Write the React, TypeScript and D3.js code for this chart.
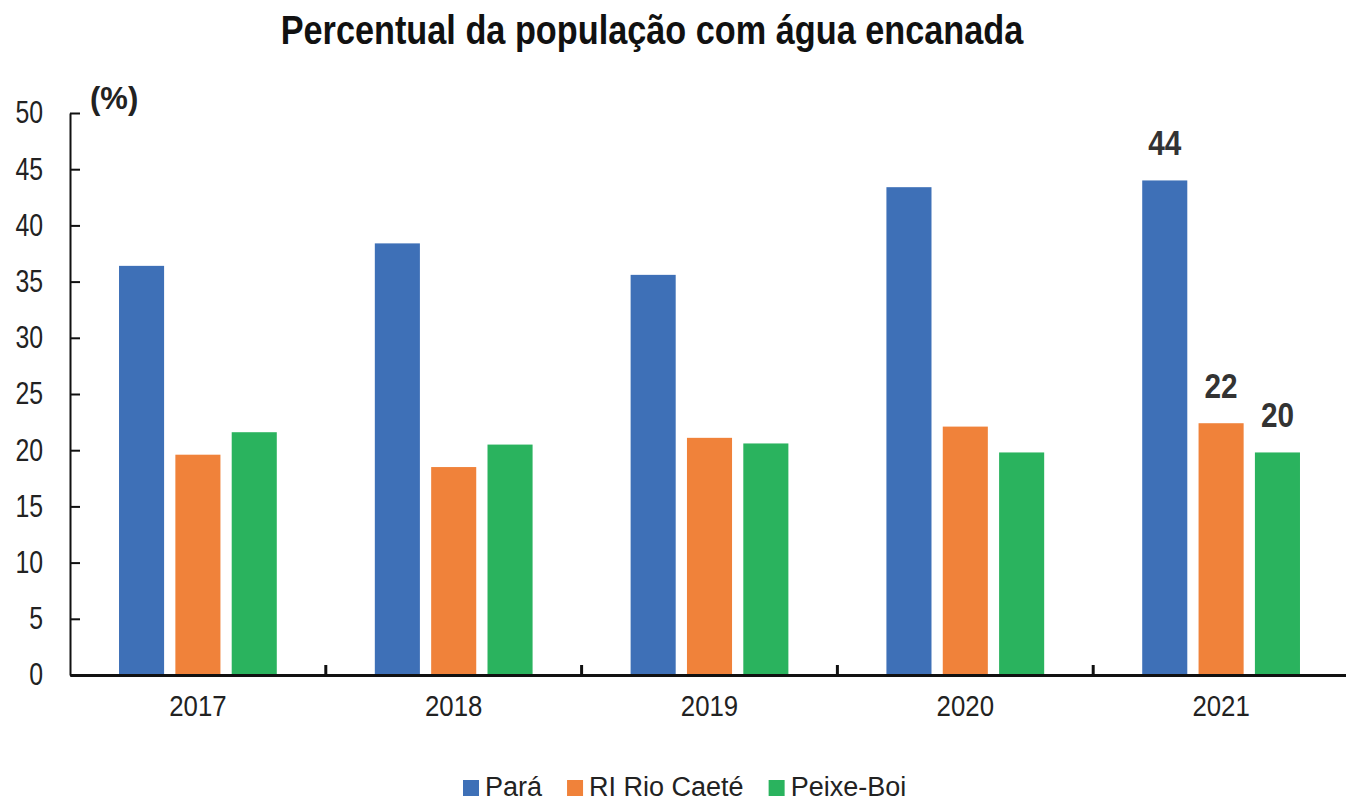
import React, { useEffect, useRef } from 'react';
import * as d3 from 'd3';

const years = ['2017', '2018', '2019', '2020', '2021'];
const seriesNames = ['Pará', 'RI Rio Caeté', 'Peixe-Boi'];
const para = [36.4, 38.4, 35.6, 43.4, 44.0];
const riRioCaete = [19.6, 18.5, 21.1, 22.1, 22.4];
const peixeBoi = [21.6, 20.5, 20.6, 19.8, 19.8];
// only the last year carries value labels in the original
const labelYear = '2021';
const yTicks = [0, 5, 10, 15, 20, 25, 30, 35, 40, 45, 50];
const colors = ['#3E70B7', '#F0823A', '#2AB35E'];

const FONT = "'Liberation Sans', Arial, sans-serif";

// no Arial Narrow installed, so squeeze regular text horizontally
const narrow = (sel: any, k: number) => {
  sel.each(function (this: SVGTextElement) {
    const t = d3.select(this);
    const x0 = +(t.attr('x') || 0);
    t.attr('x', x0 / k).attr('transform', `scale(${k},1)`);
  });
};

const App = () => {
  const svgRef = useRef<SVGSVGElement>(null);

  useEffect(() => {
    if (!svgRef.current) return;
    const svg = d3.select(svgRef.current);
    svg.selectAll('*').remove();

    const w = 1346;
    const h = 803;
    const left = 70;
    const right = 1349;
    const top = 113;
    const bottom = 675;

    const values = [para, riRioCaete, peixeBoi];

    const x = d3.scaleBand().domain(years).range([left, right]).padding(0);
    const xs = d3
      .scaleBand()
      .domain(seriesNames)
      .range([0, x.bandwidth()])
      .paddingInner(0.2)
      .paddingOuter(0.87);
    const y = d3.scaleLinear().domain([0, 50]).range([bottom, top]);

    svg.attr('width', w).attr('height', h).style('font-family', FONT);

    // title
    svg.append('text')
      .attr('x', 652)
      .attr('y', 44)
      .attr('text-anchor', 'middle')
      .style('font-size', '40px')
      .style('font-weight', 'bold')
      .attr('fill', '#111')
      .text('Percentual da população com água encanada')
      .call(narrow, 0.857);

    svg.append('text')
      .attr('x', 90)
      .attr('y', 109)
      .style('font-size', '31px')
      .style('font-weight', 'bold')
      .attr('fill', '#222')
      .text('(%)');

    // bars
    const groups = svg.append('g')
      .selectAll('g')
      .data(years)
      .enter()
      .append('g')
      .attr('transform', (d) => `translate(${x(d)},0)`);

    groups.selectAll('rect')
      .data((d, i) => seriesNames.map((s, k) => ({ s, k, v: values[k][i] })))
      .enter()
      .append('rect')
      .attr('x', (d) => xs(d.s) as number)
      .attr('y', (d) => y(d.v))
      .attr('width', xs.bandwidth())
      .attr('height', (d) => y(0) - y(d.v))
      .attr('fill', (d) => colors[d.k]);

    // value labels on last year
    const li = years.indexOf(labelYear);
    svg.append('g')
      .selectAll('text')
      .data(seriesNames.map((s, k) => ({ s, v: values[k][li] })))
      .enter()
      .append('text')
      .attr('x', (d) => (x(labelYear) as number) + (xs(d.s) as number) + xs.bandwidth() / 2)
      .attr('y', (d) => y(d.v) - 25)
      .attr('text-anchor', 'middle')
      .style('font-size', '35px')
      .style('font-weight', 'bold')
      .attr('fill', '#333')
      .text((d) => d3.format('.0f')(d.v))
      .call(narrow, 0.85);

    // y axis
    const yAxis = d3.axisLeft(y).tickValues(yTicks).tickSizeInner(-10).tickSizeOuter(0).tickPadding(27);
    const yg = svg.append('g').attr('transform', `translate(${left},0)`).call(yAxis);
    yg.select('.domain').attr('stroke', '#111').attr('stroke-width', 2);
    yg.selectAll('.tick line').attr('stroke', '#111').attr('stroke-width', 2);
    yg.selectAll('.tick text')
      .style('font-size', '31px')
      .style('font-family', FONT)
      .attr('fill', '#222')
      .call(narrow, 0.8);

    // x axis
    const xAxis = d3.axisBottom(x).tickSize(0).tickPadding(20);
    const xg = svg.append('g').attr('transform', `translate(0,${bottom})`).call(xAxis);
    xg.select('.domain').attr('stroke', '#111').attr('stroke-width', 3);
    xg.selectAll('.tick text')
      .style('font-size', '30px')
      .style('font-family', FONT)
      .attr('fill', '#222')
      .call(narrow, 0.86);

    // category separators pointing up
    svg.append('g')
      .selectAll('line')
      .data(years.slice(1))
      .enter()
      .append('line')
      .attr('x1', (d) => x(d) as number)
      .attr('x2', (d) => x(d) as number)
      .attr('y1', bottom)
      .attr('y2', bottom - 10)
      .attr('stroke', '#111')
      .attr('stroke-width', 3);

    // legend
    const legend = svg.append('g');
    let lx = 463;
    seriesNames.forEach((s, k) => {
      legend.append('rect')
        .attr('x', lx)
        .attr('y', 780)
        .attr('width', 16)
        .attr('height', 16)
        .attr('fill', colors[k]);
      const t = legend.append('text')
        .attr('x', lx + 22)
        .attr('y', 796)
        .style('font-size', '27px')
        .attr('fill', '#222')
        .text(s);
      const tw = (t.node() as SVGTextElement).getComputedTextLength();
      lx += 22 + tw + 25;
    });
  }, []);

  return (
    <div style={{ position: 'absolute', left: 0, top: 0, background: '#fff' }}>
      <svg ref={svgRef}></svg>
    </div>
  );
};

export default App;
